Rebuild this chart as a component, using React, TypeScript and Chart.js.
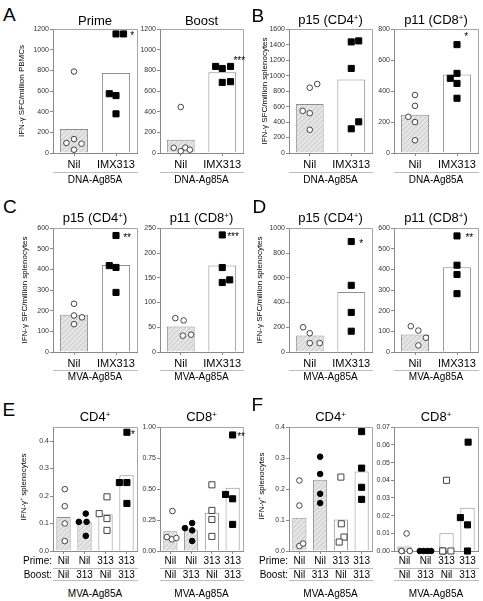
import React, { useEffect, useRef } from 'react';
import { Chart, registerables } from 'chart.js';

Chart.register(...registerables);

const FONT = "'Liberation Sans', Arial, Helvetica, sans-serif";
Chart.defaults.font.family = FONT;

// ---------------- categories ----------------
const catsTwo = ['Nil', 'IMX313'];
const catsFour = [['Nil', 'Nil'], ['Nil', '313'], ['313', 'Nil'], ['313', '313']];

// ---------------- y tick values ----------------
const ticks1200 = [0, 200, 400, 600, 800, 1000, 1200];
const ticks1600 = [0, 200, 400, 600, 800, 1000, 1200, 1400, 1600];
const ticks800 = [0, 200, 400, 600, 800];
const ticks600 = [0, 100, 200, 300, 400, 500, 600];
const ticks250 = [0, 50, 100, 150, 200, 250];
const ticks1000 = [0, 200, 400, 600, 800, 1000];
const ticksE4 = [0, 0.1, 0.2, 0.3, 0.4];
const ticksE8 = [0, 0.25, 0.5, 0.75, 1];
const ticksF4 = [0, 0.1, 0.2, 0.3, 0.4];
const ticksF8 = [0, 0.01, 0.02, 0.03, 0.04, 0.05, 0.06, 0.07];

// ---------------- A: DNA-Ag85A, PBMCs ----------------
const aPrimeBars = [232, 775];
const aPrimeNil = [790, 97, 135, 90, 32];
const aPrimeNilJit = [0, -0.18, 0, 0.18, 0];
const aPrimeImx = [1155, 1155, 575, 557, 380];
const aPrimeImxJit = [0, 0.18, -0.16, 0, 0];
const aPrimeSig = '*';

const aBoostBars = [129, 784];
const aBoostNil = [446, 50, 18, 52, 32];
const aBoostNilJit = [0, -0.17, 0, 0.11, 0.22];
const aBoostImx = [840, 820, 840, 685, 692];
const aBoostImxJit = [-0.16, 0, 0.2, 0, 0.2];
const aBoostSig = '***';

// ---------------- B: DNA-Ag85A, splenocytes ----------------
const bP15Bars = [635, 952];
const bP15Nil = [845, 892, 545, 515, 300];
const bP15NilJit = [0, 0.18, -0.17, 0, 0];
const bP15Imx = [1437, 1450, 1094, 313, 403];
const bP15ImxJit = [0, 0.18, 0, 0, 0.18];

const bP11Bars = [247, 508];
const bP11Nil = [375, 305, 234, 200, 82];
const bP11NilJit = [0, 0, -0.16, 0, 0];
const bP11Imx = [701, 515, 483, 450, 354];
const bP11ImxJit = [0, 0, -0.16, 0, 0];
const bP11Sig = '*';

// ---------------- C: MVA-Ag85A ----------------
const cP15Bars = [181, 422];
const cP15Nil = [234, 177, 168, 135];
const cP15NilJit = [0, 0, 0.19, 0];
const cP15Imx = [565, 419, 410, 289];
const cP15ImxJit = [0, -0.16, 0, 0];
const cP15Sig = '**';

const cP11Bars = [51.7, 174.7];
const cP11Nil = [68.5, 63.8, 33, 35];
const cP11NilJit = [-0.13, 0.07, 0.05, 0.25];
const cP11Imx = [236.6, 170.7, 140.5, 145.8];
const cP11ImxJit = [0, 0, 0, 0.18];
const cP11Sig = '***';

// ---------------- D: MVA-Ag85A ----------------
const dP15Bars = [133, 485];
const dP15Nil = [200, 152, 72, 72];
const dP15NilJit = [-0.16, 0, 0, 0.24];
const dP15Imx = [893, 539, 320, 168];
const dP15ImxJit = [0, 0, 0, 0];
const dP15Sig = '*';

const dP11Bars = [85, 411];
const dP11Nil = [125, 104, 69, 32];
const dP11NilJit = [-0.1, 0.08, 0.26, 0.08];
const dP11Imx = [563, 421, 376, 283];
const dP11ImxJit = [0, 0, 0, 0];
const dP11Sig = '**';

// ---------------- E: prime/boost, MVA-Ag85A ----------------
const eCD4Bars = [0.124, 0.106, 0.134, 0.276];
const eCD4NilNil = [0.225, 0.163, 0.1, 0.036];
const eCD4NilNilJit = [0.06, 0.06, 0.06, 0.06];
const eCD4Nil313 = [0.136, 0.106, 0.106, 0.055];
const eCD4Nil313Jit = [0.06, -0.27, 0.1, 0.06];
const eCD4313Nil = [0.136, 0.197, 0.118, 0.075];
const eCD4313NilJit = [-0.3, 0.07, 0.07, 0.07];
const eCD4313313 = [0.249, 0.249, 0.173, 0.432];
const eCD4313313Jit = [-0.34, 0.02, 0.02, 0.02];
const eCD4Sig = '*';

const eCD8Bars = [0.159, 0.167, 0.309, 0.511];
const eCD8NilNil = [0.323, 0.113, 0.094, 0.105];
const eCD8NilNilJit = [0.1, -0.17, 0.07, 0.29];
const eCD8Nil313 = [0.185, 0.226, 0.167, 0.081];
const eCD8Nil313Jit = [-0.3, 0.05, 0.05, 0.05];
const eCD8313Nil = [0.535, 0.328, 0.255, 0.118];
const eCD8313NilJit = [0, 0, 0, 0];
const eCD8313313 = [0.457, 0.422, 0.215, 0.938];
const eCD8313313Jit = [-0.34, 0, 0, 0];
const eCD8Sig = '**';

// ---------------- F: prime/boost, MVA-Ag85A ----------------
const fCD4Bars = [0.1075, 0.23, 0.102, 0.257];
const fCD4NilNil = [0.228, 0.147, 0.016, 0.024];
const fCD4NilNilJit = [0, 0, 0, 0.18];
const fCD4Nil313 = [0.305, 0.249, 0.185, 0.155];
const fCD4Nil313Jit = [0, 0, 0, 0];
const fCD4313Nil = [0.239, 0.088, 0.045, 0.029];
const fCD4313NilJit = [0, 0.02, 0.15, -0.08];
const fCD4313313 = [0.386, 0.268, 0.206, 0.167];
const fCD4313313Jit = [0, 0, 0, 0];

const fCD8Bars = [0.0026, 0, 0.0101, 0.0245];
const fCD8NilNil = [0.0099, 0, 0, 0];
const fCD8NilNilJit = [0.1, -0.14, 0.25, -0.14];
const fCD8Nil313 = [0, 0, 0, 0];
const fCD8Nil313Jit = [-0.27, -0.09, 0.09, 0.27];
const fCD8313Nil = [0.04, 0, 0, 0];
const fCD8313NilJit = [0, -0.18, 0.21, -0.18];
const fCD8313313 = [0.0616, 0.0189, 0.0148, 0];
const fCD8313313Jit = [0.03, -0.34, 0, 0];

// ---------------- types ----------------
type Group = { cat: number; y: number[]; x: number[]; filled: boolean; square: boolean };
type Spec = {
  cats: (string | string[])[];
  bars: number[];
  hatched: boolean[];
  groups: Group[];
  yMax: number;
  yTicks: number[];
  dec: number;
  star?: { cat: number; dx: number; y: number; text: string };
};

const two = (bars: number[], nil: number[], nilJ: number[], imx: number[], imxJ: number[], yMax: number, yTicks: number[], star?: Spec['star']): Spec => ({
  cats: catsTwo,
  bars,
  hatched: [true, false],
  groups: [
    { cat: 0, y: nil, x: nilJ, filled: false, square: false },
    { cat: 1, y: imx, x: imxJ, filled: true, square: true },
  ],
  yMax,
  yTicks,
  dec: 0,
  star,
});

const four = (bars: number[], g: number[][], yMax: number, yTicks: number[], dec: number, star?: Spec['star']): Spec => ({
  cats: catsFour,
  bars,
  hatched: [true, true, false, false],
  groups: [
    { cat: 0, y: g[0], x: g[1], filled: false, square: false },
    { cat: 1, y: g[2], x: g[3], filled: true, square: false },
    { cat: 2, y: g[4], x: g[5], filled: false, square: true },
    { cat: 3, y: g[6], x: g[7], filled: true, square: true },
  ],
  yMax,
  yTicks,
  dec,
  star,
});

const specAPrime = two(aPrimeBars, aPrimeNil, aPrimeNilJit, aPrimeImx, aPrimeImxJit, 1200, ticks1200, { cat: 1, dx: 0.34, y: 1155, text: aPrimeSig });
const specABoost = two(aBoostBars, aBoostNil, aBoostNilJit, aBoostImx, aBoostImxJit, 1200, ticks1200, { cat: 1, dx: 0.27, y: 915, text: aBoostSig });
const specBP15 = two(bP15Bars, bP15Nil, bP15NilJit, bP15Imx, bP15ImxJit, 1600, ticks1600);
const specBP11 = two(bP11Bars, bP11Nil, bP11NilJit, bP11Imx, bP11ImxJit, 800, ticks800, { cat: 1, dx: 0.17, y: 768, text: bP11Sig });
const specCP15 = two(cP15Bars, cP15Nil, cP15NilJit, cP15Imx, cP15ImxJit, 600, ticks600, { cat: 1, dx: 0.17, y: 565, text: cP15Sig });
const specCP11 = two(cP11Bars, cP11Nil, cP11NilJit, cP11Imx, cP11ImxJit, 250, ticks250, { cat: 1, dx: 0.12, y: 236.6, text: cP11Sig });
const specDP15 = two(dP15Bars, dP15Nil, dP15NilJit, dP15Imx, dP15ImxJit, 1000, ticks1000, { cat: 1, dx: 0.19, y: 893, text: dP15Sig });
const specDP11 = two(dP11Bars, dP11Nil, dP11NilJit, dP11Imx, dP11ImxJit, 600, ticks600, { cat: 1, dx: 0.2, y: 563, text: dP11Sig });
const specECD4 = four(eCD4Bars, [eCD4NilNil, eCD4NilNilJit, eCD4Nil313, eCD4Nil313Jit, eCD4313Nil, eCD4313NilJit, eCD4313313, eCD4313313Jit], 0.45, ticksE4, 1, { cat: 3, dx: 0.22, y: 0.432, text: eCD4Sig });
const specECD8 = four(eCD8Bars, [eCD8NilNil, eCD8NilNilJit, eCD8Nil313, eCD8Nil313Jit, eCD8313Nil, eCD8313NilJit, eCD8313313, eCD8313313Jit], 1, ticksE8, 2, { cat: 3, dx: 0.22, y: 0.938, text: eCD8Sig });
const specFCD4 = four(fCD4Bars, [fCD4NilNil, fCD4NilNilJit, fCD4Nil313, fCD4Nil313Jit, fCD4313Nil, fCD4313NilJit, fCD4313313, fCD4313313Jit], 0.4, ticksF4, 1);
const specFCD8 = four(fCD8Bars, [fCD8NilNil, fCD8NilNilJit, fCD8Nil313, fCD8Nil313Jit, fCD8313Nil, fCD8313NilJit, fCD8313313, fCD8313313Jit], 0.07, ticksF8, 2);

// ---------------- layout ----------------
const COLS = [[53, 137], [160, 243], [289, 372], [394, 478]];
const ROWS = [[29, 153], [228, 352], [427, 551]];
const ROW_LINES = [[18.5], [17.5], [16.5, 29]];

const PANELS: { spec: Spec; col: number; row: number }[] = [
  { spec: specAPrime, col: 0, row: 0 },
  { spec: specABoost, col: 1, row: 0 },
  { spec: specBP15, col: 2, row: 0 },
  { spec: specBP11, col: 3, row: 0 },
  { spec: specCP15, col: 0, row: 1 },
  { spec: specCP11, col: 1, row: 1 },
  { spec: specDP15, col: 2, row: 1 },
  { spec: specDP11, col: 3, row: 1 },
  { spec: specECD4, col: 0, row: 2 },
  { spec: specECD8, col: 1, row: 2 },
  { spec: specFCD4, col: 2, row: 2 },
  { spec: specFCD8, col: 3, row: 2 },
];

function makeHatch(): any {
  const c = document.createElement('canvas');
  c.width = 5;
  c.height = 5;
  const g = c.getContext('2d');
  if (!g) return '#e2e2e2';
  g.fillStyle = '#e4e4e4';
  g.fillRect(0, 0, 5, 5);
  g.strokeStyle = '#c9c9c9';
  g.lineWidth = 1;
  g.beginPath();
  g.moveTo(0, 5);
  g.lineTo(5, 0);
  g.moveTo(-1, 1);
  g.lineTo(1, -1);
  g.moveTo(4, 6);
  g.lineTo(6, 4);
  g.stroke();
  return g.createPattern(c, 'repeat') || '#e2e2e2';
}

function buildConfig(spec: Spec, lines: number[], hatch: any) {
  const n = spec.cats.length;
  const ef = n === 4;
  const datasets: any[] = [
    {
      type: 'bar',
      data: spec.bars,
      backgroundColor: spec.hatched.map((h) => (h ? hatch : '#ffffff')),
      borderColor: '#8e8e8e',
      borderWidth: 1,
      grouped: false,
      barPercentage: ef ? 0.68 : 0.67,
      categoryPercentage: 1,
      xAxisID: 'x',
      yAxisID: 'y',
      order: 5,
    },
  ];
  for (const g of spec.groups) {
    datasets.push({
      type: 'scatter',
      data: g.y.map((v, k) => ({ x: g.cat + g.x[k], y: v })),
      xAxisID: 'xj',
      yAxisID: 'y',
      pointStyle: g.square ? 'rect' : 'circle',
      pointRadius: g.square ? 4.3 : 2.8,
      pointBorderWidth: 1,
      pointBackgroundColor: g.filled ? '#000000' : '#ffffff',
      pointBorderColor: g.filled ? '#000000' : '#444444',
      showLine: false,
      clip: false,
      order: 1,
    });
  }

  const framePlugin = {
    id: 'frameBox',
    beforeDatasetsDraw(chart: any) {
      const { ctx, chartArea: a } = chart;
      const L = Math.round(a.left) + 0.5;
      const R = Math.round(a.right) + 0.5;
      const T = Math.round(a.top) + 0.5;
      ctx.save();
      ctx.strokeStyle = '#a6a6a6';
      ctx.lineWidth = 1;
      ctx.beginPath();
      ctx.moveTo(L, T);
      ctx.lineTo(R, T);
      ctx.lineTo(R, a.bottom);
      ctx.stroke();
      ctx.restore();
    },
    afterDraw(chart: any) {
      const { ctx, chartArea: a } = chart;
      ctx.save();
      ctx.strokeStyle = '#bdbdbd';
      ctx.lineWidth = 1;
      for (const off of lines) {
        const y = Math.round(a.bottom + off) + 0.5;
        ctx.beginPath();
        ctx.moveTo(Math.round(a.left), y);
        ctx.lineTo(Math.round(a.right) + 1, y);
        ctx.stroke();
      }
      ctx.restore();
    },
    afterDatasetsDraw(chart: any) {
      const s = spec.star;
      if (!s) return;
      const ctx = chart.ctx;
      const px = chart.scales.xj.getPixelForValue(s.cat + s.dx);
      const py = chart.scales.y.getPixelForValue(s.y);
      ctx.save();
      ctx.font = `10px ${FONT}`;
      ctx.fillStyle = '#000';
      ctx.textAlign = 'left';
      ctx.textBaseline = 'alphabetic';
      ctx.fillText(s.text, px, py + 5.5);
      ctx.restore();
    },
  };

  return {
    type: 'bar',
    data: { labels: spec.cats, datasets },
    options: {
      animation: false,
      responsive: false,
      maintainAspectRatio: false,
      events: [],
      layout: { padding: { left: 0, top: 2, right: 14, bottom: 0 } },
      plugins: { legend: { display: false }, tooltip: { enabled: false }, title: { display: false } },
      scales: {
        x: {
          type: 'category',
          offset: true,
          grid: { display: true, offset: false, drawOnChartArea: false, drawTicks: true, tickLength: 3, color: '#8a8a8a' },
          border: { display: true, color: '#8a8a8a' },
          ticks: {
            color: '#000',
            font: { size: ef ? 10 : 11, family: FONT, lineHeight: ef ? 1.4 : 1.2 },
            padding: ef ? 0 : 2,
            maxRotation: 0,
            minRotation: 0,
            autoSkip: false,
          },
          afterFit: (s: any) => {
            s.height = ef ? 36 : 26;
          },
        },
        xj: {
          type: 'linear',
          display: false,
          offset: false,
          grid: { offset: false },
          min: -0.5,
          max: n - 0.5,
        },
        y: {
          type: 'linear',
          min: 0,
          max: spec.yMax,
          afterBuildTicks: (s: any) => {
            s.ticks = spec.yTicks.map((v) => ({ value: v }));
          },
          grid: { display: true, drawOnChartArea: false, drawTicks: true, tickLength: 3, color: '#8a8a8a' },
          border: { display: true, color: '#8a8a8a' },
          ticks: {
            color: '#333',
            font: { size: 7, family: FONT },
            padding: 1,
            callback: (v: any) => Number(v).toFixed(spec.dec),
          },
          afterFit: (s: any) => {
            s.width = 30;
          },
        },
      },
    },
    plugins: [framePlugin],
  };
}

function SubChart({ spec, col, row }: { spec: Spec; col: number; row: number }) {
  const wrapRef = useRef<HTMLDivElement>(null);
  const canvasRef = useRef<HTMLCanvasElement>(null);
  useEffect(() => {
    const canvas = canvasRef.current;
    const wrap = wrapRef.current;
    if (!canvas || !wrap) return;
    const [l, r] = COLS[col];
    const [t, b] = ROWS[row];
    const lines = ROW_LINES[row];
    const bw = r - l;
    const bh = b - t;
    const hatch = makeHatch();
    const create = (w: number, h: number) => {
      canvas.width = w;
      canvas.height = h;
      canvas.style.width = w + 'px';
      canvas.style.height = h + 'px';
      return new Chart(canvas, buildConfig(spec, lines, hatch) as any);
    };
    let W = bw + 46;
    let H = bh + 44;
    let chart = create(W, H);
    const ca = chart.chartArea;
    const ml = ca.left;
    const mt = ca.top;
    const mr = W - ca.right;
    const mb = H - ca.bottom;
    chart.destroy();
    W = Math.round(bw + ml + mr);
    H = Math.round(bh + mt + mb);
    wrap.style.left = Math.round(l - ml) + 'px';
    wrap.style.top = Math.round(t - mt) + 'px';
    chart = create(W, H);
    return () => {
      chart.destroy();
    };
  }, [spec, col, row]);
  return (
    <div ref={wrapRef} style={{ position: 'absolute', left: 0, top: 0 }}>
      <canvas ref={canvasRef} />
    </div>
  );
}

const Sup = ({ children }: { children: any }) => (
  <span style={{ fontSize: '0.62em', position: 'relative', top: '-0.55em' }}>{children}</span>
);

function Txt({ x, y, size, children, anchor = 'center', rotate = false }: { x: number; y: number; size: number; children: any; anchor?: string; rotate?: boolean }) {
  const tx = anchor === 'left' ? '0' : anchor === 'right' ? '-100%' : '-50%';
  return (
    <div
      style={{
        position: 'absolute',
        left: x,
        top: y,
        fontSize: size,
        lineHeight: 1,
        whiteSpace: 'nowrap',
        transform: `translate(${tx}, -50%)${rotate ? ' rotate(-90deg)' : ''}`,
        transformOrigin: rotate ? 'center center' : undefined,
        color: '#000',
      }}
    >
      {children}
    </div>
  );
}

const cx = (c: number) => (COLS[c][0] + COLS[c][1]) / 2;

export default function App() {
  const p15 = (
    <>
      p15 (CD4<Sup>+</Sup>)
    </>
  );
  const p11 = (
    <>
      p11 (CD8<Sup>+</Sup>)
    </>
  );
  const cd4 = (
    <>
      CD4<Sup>+</Sup>
    </>
  );
  const cd8 = (
    <>
      CD8<Sup>+</Sup>
    </>
  );
  const yPbmc = 'IFN-γ SFC/million PBMCs';
  const ySpl = 'IFN-γ SFC/million splenocytes';
  const yPct = (
    <>
      IFN-γ<Sup>+</Sup> splenocytes
    </>
  );
  return (
    <div
      style={{
        position: 'absolute',
        left: 0,
        top: 0,
        width: 483,
        height: 601,
        background: '#ffffff',
        overflow: 'hidden',
        fontFamily: FONT,
        color: '#000',
      }}
    >
      {PANELS.map((p, i) => (
        <SubChart key={i} spec={p.spec} col={p.col} row={p.row} />
      ))}

      {/* panel letters */}
      <Txt x={3} y={14} size={19} anchor="left">A</Txt>
      <Txt x={251.5} y={14.5} size={19} anchor="left">B</Txt>
      <Txt x={3} y={206} size={19} anchor="left">C</Txt>
      <Txt x={252.5} y={206} size={19} anchor="left">D</Txt>
      <Txt x={2.5} y={409} size={19} anchor="left">E</Txt>
      <Txt x={251.5} y={403.5} size={19} anchor="left">F</Txt>

      {/* titles */}
      <Txt x={cx(0)} y={20} size={13}>Prime</Txt>
      <Txt x={cx(1)} y={20} size={13}>Boost</Txt>
      <Txt x={cx(2)} y={20} size={13}>{p15}</Txt>
      <Txt x={cx(3)} y={20} size={13}>{p11}</Txt>
      <Txt x={cx(0)} y={218} size={13}>{p15}</Txt>
      <Txt x={cx(1)} y={218} size={13}>{p11}</Txt>
      <Txt x={cx(2)} y={218} size={13}>{p15}</Txt>
      <Txt x={cx(3)} y={218} size={13}>{p11}</Txt>
      <Txt x={cx(0)} y={417} size={13}>{cd4}</Txt>
      <Txt x={cx(1)} y={417} size={13}>{cd8}</Txt>
      <Txt x={cx(2)} y={417} size={13}>{cd4}</Txt>
      <Txt x={cx(3)} y={417} size={13}>{cd8}</Txt>

      {/* y-axis titles */}
      <Txt x={21.5} y={91} size={8} rotate>{yPbmc}</Txt>
      <Txt x={264.5} y={91} size={8} rotate>{ySpl}</Txt>
      <Txt x={24.5} y={290} size={8} rotate>{ySpl}</Txt>
      <Txt x={259.5} y={290} size={8} rotate>{ySpl}</Txt>
      <Txt x={23.5} y={487} size={8} rotate>{yPct}</Txt>
      <Txt x={262} y={486} size={8} rotate>{yPct}</Txt>

      {/* vaccine group labels */}
      {[0, 1, 2, 3].map((c) => (
        <Txt key={'g1' + c} x={cx(c)} y={179.5} size={10}>DNA-Ag85A</Txt>
      ))}
      {[0, 1, 2, 3].map((c) => (
        <Txt key={'g2' + c} x={cx(c)} y={377} size={10}>MVA-Ag85A</Txt>
      ))}
      {[0, 1, 2, 3].map((c) => (
        <Txt key={'g3' + c} x={cx(c)} y={593.5} size={10}>MVA-Ag85A</Txt>
      ))}

      {/* prime/boost row headers */}
      <Txt x={52} y={561} size={10} anchor="right">Prime:</Txt>
      <Txt x={52} y={575} size={10} anchor="right">Boost:</Txt>
      <Txt x={288} y={561} size={10} anchor="right">Prime:</Txt>
      <Txt x={288} y={575} size={10} anchor="right">Boost:</Txt>
    </div>
  );
}
